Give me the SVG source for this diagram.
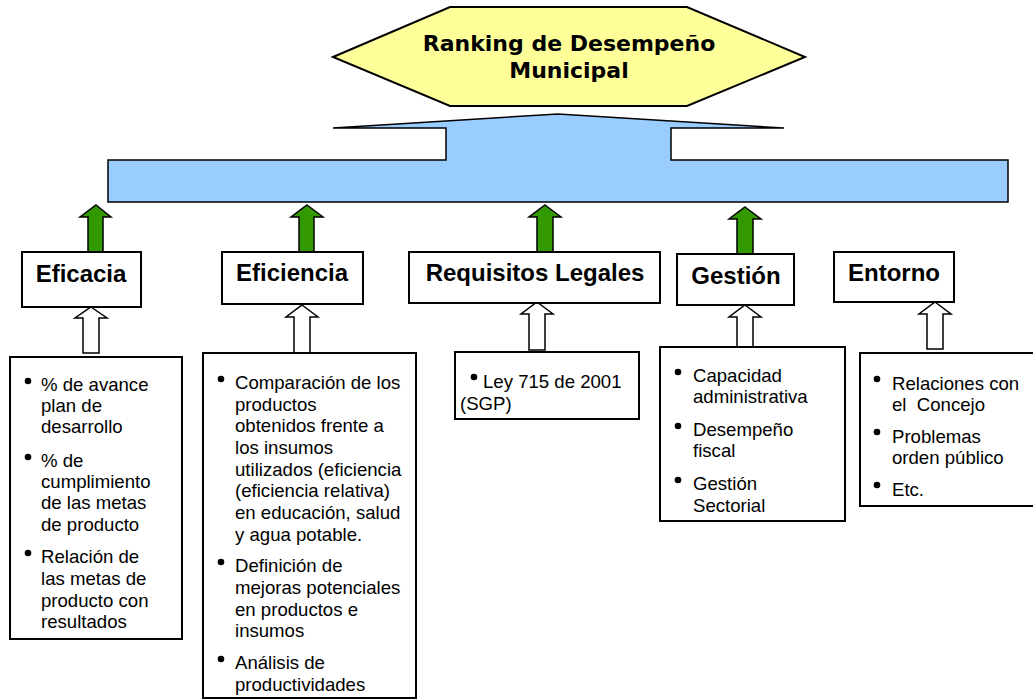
<svg xmlns="http://www.w3.org/2000/svg" width="1033" height="700" viewBox="0 0 1033 700">
<style>
.box{fill:#fff;stroke:#000;stroke-width:2}
.hd{font-family:"Liberation Sans",Arial,sans-serif;font-weight:bold;font-size:24px;text-anchor:middle;fill:#000}
.tx{font-family:"Liberation Sans",Arial,sans-serif;font-size:18.6px;fill:#000;white-space:pre}
.ttl{font-family:"DejaVu Sans",Verdana,sans-serif;font-weight:bold;font-size:22px;text-anchor:middle;fill:#000}
.garr{fill:#339900;stroke:#000;stroke-width:1.5;stroke-linejoin:miter}
.warr{fill:#fff;stroke:#000;stroke-width:1.5}
.bl{fill:#000}
</style>
<g id="title">
<polygon points="333,57 450,7 687,7 805,57 687,106 450,106" fill="#FFFF99" stroke="#000" stroke-width="2"/>
<text class="ttl" x="569" y="51">Ranking de Desempeño</text>
<text class="ttl" x="569" y="78">Municipal</text>
</g>
<g id="base">
<path d="M108,160 L446,160 L446,128 L333,128 L558,114 L784,128 L671,128 L671,160 L1008,160 L1008,202 L108,202 Z" fill="#99CCFF" stroke="#000" stroke-width="1.5"/>
</g>
<g id="connectors">
<path class="garr" d="M96,205 L111,217 L103,217 L103,252 L88,252 L88,217 L80,217 Z"/>
<path class="garr" d="M307,205 L323,217 L314,217 L314,252 L299,252 L299,217 L291,217 Z"/>
<path class="garr" d="M545,205 L561,217 L553,217 L553,252 L537,252 L537,217 L529,217 Z"/>
<path class="garr" d="M745,207 L761,219 L753,219 L753,254 L737,254 L737,219 L729,219 Z"/>
<path class="warr" d="M91,307 L107,318 L99,318 L99,353 L83,353 L83,318 L75,318 Z"/>
<path class="warr" d="M302,305 L318,317 L310,317 L310,353 L294,353 L294,317 L286,317 Z"/>
<path class="warr" d="M537,302 L553,314 L545,314 L545,350 L529,350 L529,314 L521,314 Z"/>
<path class="warr" d="M745,305 L761,317 L753,317 L753,347 L737,347 L737,317 L729,317 Z"/>
<path class="warr" d="M935,302 L951,314 L943,314 L943,349 L927,349 L927,314 L919,314 Z"/>
</g>
<g id="eficacia">
<rect class="box" x="22" y="252" width="119" height="55"/>
<text class="hd" x="81" y="282">Eficacia</text>
</g>
<g id="eficiencia">
<rect class="box" x="222" y="252" width="141" height="52"/>
<text class="hd" x="292" y="281">Eficiencia</text>
</g>
<g id="requisitos">
<rect class="box" x="409" y="252" width="251" height="51"/>
<text class="hd" x="535" y="281">Requisitos Legales</text>
</g>
<g id="gestion">
<rect class="box" x="677" y="254" width="117" height="51"/>
<text class="hd" x="736" y="284">Gestión</text>
</g>
<g id="entorno">
<rect class="box" x="834" y="252" width="120" height="50"/>
<text class="hd" x="894" y="281">Entorno</text>
</g>
<g id="eficacia-detalle">
<rect class="box" x="10" y="357" width="172" height="282"/>
<circle class="bl" cx="28" cy="381" r="3.3"/>
<circle class="bl" cx="28" cy="457" r="3.3"/>
<circle class="bl" cx="28" cy="553" r="3.3"/>
<text class="tx" x="41" y="391">% de avance</text>
<text class="tx" x="41" y="412">plan de</text>
<text class="tx" x="41" y="433">desarrollo</text>
<text class="tx" x="41" y="467">% de</text>
<text class="tx" x="41" y="488">cumplimiento</text>
<text class="tx" x="41" y="509">de las metas</text>
<text class="tx" x="41" y="531">de producto</text>
<text class="tx" x="41" y="563">Relación de</text>
<text class="tx" x="41" y="585">las metas de</text>
<text class="tx" x="41" y="607">producto con</text>
<text class="tx" x="41" y="628">resultados</text>
</g>
<g id="eficiencia-detalle">
<rect class="box" x="203" y="353" width="213" height="345"/>
<circle class="bl" cx="221" cy="379" r="3.3"/>
<circle class="bl" cx="221" cy="562" r="3.3"/>
<circle class="bl" cx="221" cy="659" r="3.3"/>
<text class="tx" x="235" y="389">Comparación de los</text>
<text class="tx" x="235" y="411">productos</text>
<text class="tx" x="235" y="432">obtenidos frente a</text>
<text class="tx" x="235" y="454">los insumos</text>
<text class="tx" x="235" y="476">utilizados (eficiencia</text>
<text class="tx" x="235" y="497">(eficiencia relativa)</text>
<text class="tx" x="235" y="519">en educación, salud</text>
<text class="tx" x="235" y="541">y agua potable.</text>
<text class="tx" x="235" y="572">Definición de</text>
<text class="tx" x="235" y="594">mejoras potenciales</text>
<text class="tx" x="235" y="616">en productos e</text>
<text class="tx" x="235" y="637">insumos</text>
<text class="tx" x="235" y="669">Análisis de</text>
<text class="tx" x="235" y="691">productividades</text>
</g>
<g id="requisitos-detalle">
<rect class="box" x="455" y="352" width="184" height="67"/>
<circle class="bl" cx="474" cy="377" r="3.3"/>
<text class="tx" x="483" y="388">Ley 715 de 2001</text>
<text class="tx" x="460" y="410">(SGP)</text>
</g>
<g id="gestion-detalle">
<rect class="box" x="660" y="347" width="185" height="174"/>
<circle class="bl" cx="678" cy="372" r="3.3"/>
<circle class="bl" cx="678" cy="426" r="3.3"/>
<circle class="bl" cx="678" cy="480" r="3.3"/>
<text class="tx" x="693" y="382">Capacidad</text>
<text class="tx" x="693" y="403">administrativa</text>
<text class="tx" x="693" y="436">Desempeño</text>
<text class="tx" x="693" y="457">fiscal</text>
<text class="tx" x="693" y="490">Gestión</text>
<text class="tx" x="693" y="512">Sectorial</text>
</g>
<g id="entorno-detalle">
<rect class="box" x="860" y="353" width="185" height="153"/>
<circle class="bl" cx="877" cy="379" r="3.3"/>
<circle class="bl" cx="877" cy="432" r="3.3"/>
<circle class="bl" cx="877" cy="485" r="3.3"/>
<text class="tx" x="892" y="390">Relaciones con</text>
<text class="tx" x="892" y="411">el  Concejo</text>
<text class="tx" x="892" y="443">Problemas</text>
<text class="tx" x="892" y="464">orden público</text>
<text class="tx" x="892" y="496">Etc.</text>
</g>
</svg>
